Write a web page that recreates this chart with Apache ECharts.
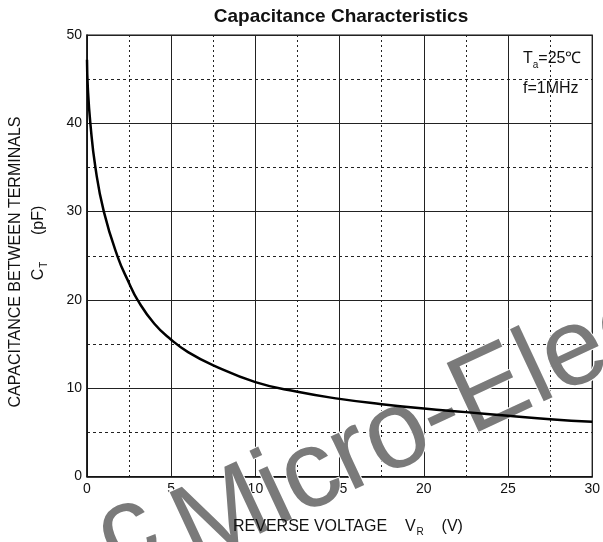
<!DOCTYPE html>
<html>
<head>
<meta charset="utf-8">
<script src="https://cdn.jsdelivr.net/npm/echarts@6/dist/echarts.min.js"></script>
<style>html,body{margin:0;padding:0;background:#fff}#c{width:603px;height:542px}</style>
</head>
<body>
<div id="c"></div>
<script>
// Data
var voltage = [0, 0.05, 0.2, 0.5, 1.0, 1.8, 2.5, 3.0, 4.0, 5.0, 6.0, 7.5, 10, 12.5, 15, 17.5, 20, 22.5, 25, 27.5, 30];
var capacitance = [47.2, 44, 40, 35, 30, 25, 21.9, 20, 17.3, 15.5, 14.1, 12.6, 10.7, 9.6, 8.8, 8.2, 7.7, 7.3, 6.9, 6.5, 6.2];
var xTicks = [0, 5, 10, 15, 20, 25, 30];
var yTicks = [0, 10, 20, 30, 40, 50];

var FONT = "'Liberation Sans', Arial, sans-serif";
var points = voltage.map(function (v, i) { return [v, capacitance[i]]; });
var ROT = 25 * Math.PI / 180;

var chart = echarts.init(document.getElementById('c'));
chart.setOption({
  animation: false,
  backgroundColor: '#fff',
  grid: { left: 87, right: 8, top: 35, bottom: 65.4, show: true, borderColor: '#111', borderWidth: 1.2, backgroundColor: 'transparent' },
  xAxis: {
    type: 'value', min: xTicks[0], max: xTicks[xTicks.length - 1], interval: 5,
    axisLine: { show: true, lineStyle: { color: '#111', width: 1.5 } },
    axisTick: { show: false },
    axisLabel: { color: '#111', fontSize: 14, fontFamily: FONT, margin: 6 },
    splitLine: { show: true, lineStyle: { color: '#222', width: 1 } },
    minorTick: { show: false, splitNumber: 2 },
    minorSplitLine: { show: true, lineStyle: { color: '#222', width: 1, type: [2, 3] } }
  },
  yAxis: {
    type: 'value', min: yTicks[0], max: yTicks[yTicks.length - 1], interval: 10,
    axisLine: { show: true, lineStyle: { color: '#111', width: 1.5 } },
    axisTick: { show: false },
    axisLabel: { color: '#111', fontSize: 14, fontFamily: FONT, margin: 5 },
    splitLine: { show: true, lineStyle: { color: '#222', width: 1 } },
    minorTick: { show: false, splitNumber: 2 },
    minorSplitLine: { show: true, lineStyle: { color: '#222', width: 1, type: [3, 3] } }
  },
  series: [{
    type: 'line', data: points, smooth: 0.5, showSymbol: false, z: 5,
    lineStyle: { color: '#000', width: 2.5 }
  }],
  graphic: [
    { type: 'text', z: 1, x: 126, y: 594, rotation: ROT,
      style: { text: 'c', font: '110px ' + FONT, fill: '#7a7a7a', stroke: '#fff', lineWidth: 2, textAlign: 'left', textVerticalAlign: 'bottom' } },
    { type: 'text', z: 1, x: 204, y: 587, rotation: ROT,
      style: { text: 'Micro-Elec', font: '110px ' + FONT, fill: '#7a7a7a', stroke: '#fff', lineWidth: 2, textAlign: 'left', textVerticalAlign: 'bottom' } },
    { type: 'text', z: 10, x: 341, y: 17,
      style: { text: 'Capacitance Characteristics', font: 'bold 19px ' + FONT, fill: '#111', textAlign: 'center', textVerticalAlign: 'middle' } },
    { type: 'text', z: 10, x: 233, y: 527,
      style: {
        text: '{a|REVERSE VOLTAGE}{s|    }{a|V}{b|R}{s|    }{a|(V)}',
        textVerticalAlign: 'middle', textAlign: 'left',
        rich: {
          a: { fontSize: 16, fontFamily: FONT, fill: '#111' },
          b: { fontSize: 10, fontFamily: FONT, fill: '#111', padding: [10, 0, 0, 1] },
          s: { fontSize: 16, fontFamily: FONT }
        }
      } },
    { type: 'text', z: 10, x: 16, y: 262, rotation: Math.PI / 2,
      style: { text: 'CAPACITANCE BETWEEN TERMINALS', font: '16px ' + FONT, fill: '#111', textAlign: 'center', textVerticalAlign: 'middle' } },
    { type: 'text', z: 10, x: 39, y: 243, rotation: Math.PI / 2,
      style: {
        text: '{a|C}{b|T}{s|      }{a|(pF)}',
        textAlign: 'center', textVerticalAlign: 'middle',
        rich: {
          a: { fontSize: 16, fontFamily: FONT, fill: '#111' },
          b: { fontSize: 10, fontFamily: FONT, fill: '#111', padding: [10, 0, 0, 1] },
          s: { fontSize: 16, fontFamily: FONT }
        }
      } },
    { type: 'text', z: 10, x: 523, y: 59,
      style: {
        text: '{a|T}{b|a}{a|=25℃}',
        textAlign: 'left', textVerticalAlign: 'middle',
        rich: {
          a: { fontSize: 16, fontFamily: FONT, fill: '#111' },
          b: { fontSize: 10, fontFamily: FONT, fill: '#111', padding: [12, 0, 0, 0] }
        }
      } },
    { type: 'text', z: 10, x: 523, y: 89,
      style: { text: 'f=1MHz', font: '16px ' + FONT, fill: '#111', textAlign: 'left', textVerticalAlign: 'middle' } }
  ]
});
</script>
</body>
</html>
